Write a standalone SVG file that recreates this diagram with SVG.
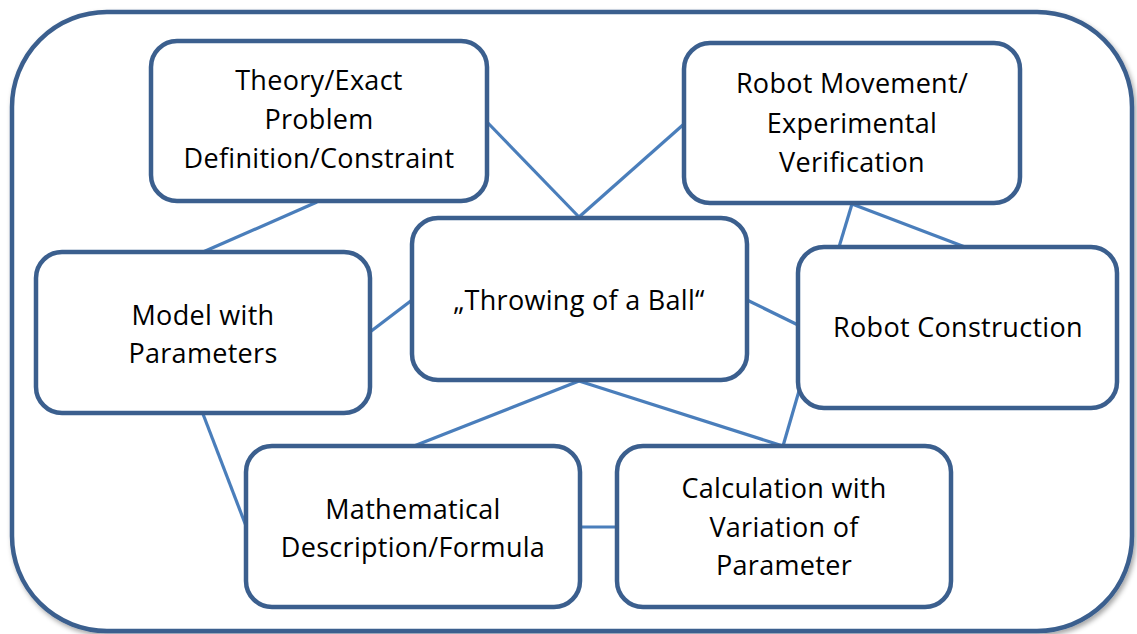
<svg xmlns="http://www.w3.org/2000/svg" width="1137" height="634" viewBox="0 0 1137 634">
<defs>
<filter id="sh" x="-5%" y="-5%" width="110%" height="110%">
<feDropShadow dx="2" dy="3" stdDeviation="2.5" flood-color="#000" flood-opacity="0.35"/>
</filter>
<style>
.node rect{fill:#fff;stroke:#3b5f8e;stroke-width:4.5}
.node text{font-family:"Open Sans","Liberation Sans",sans-serif;font-size:27px;letter-spacing:0.3px;fill:#000;text-anchor:middle}
#connectors line{stroke:#4a7ebb;stroke-width:3.2;stroke-linecap:butt}
</style>
</defs>
<rect id="frame" x="12" y="12" width="1120" height="619" rx="95" ry="95" fill="#fff" stroke="#3b5f8e" stroke-width="4.5" filter="url(#sh)"/>
<g id="connectors">
<line x1="317" y1="202" x2="203" y2="252"/>
<line x1="487" y1="122" x2="579" y2="217"/>
<line x1="579" y1="217" x2="684" y2="124"/>
<line x1="370" y1="332" x2="412" y2="300"/>
<line x1="747" y1="300" x2="798" y2="325"/>
<line x1="852" y1="204" x2="839" y2="247"/>
<line x1="852" y1="204" x2="965" y2="247"/>
<line x1="579" y1="381" x2="414" y2="446"/>
<line x1="579" y1="381" x2="783" y2="446"/>
<line x1="799" y1="391" x2="783" y2="446"/>
<line x1="203" y1="414" x2="246" y2="526"/>
<line x1="580" y1="527" x2="617" y2="527"/>
</g>
<g id="theory" class="node">
<rect x="151" y="41" width="336" height="160" rx="26"/>
<text x="319" y="90">Theory/Exact</text>
<text x="319" y="129">Problem</text>
<text x="319" y="168">Definition/Constraint</text>
</g>
<g id="robot-movement" class="node">
<rect x="684" y="43" width="336" height="160" rx="26"/>
<text x="852" y="93">Robot Movement/</text>
<text x="852" y="133">Experimental</text>
<text x="852" y="172">Verification</text>
</g>
<g id="throwing" class="node">
<rect x="412" y="218" width="335" height="162" rx="26"/>
<text x="579" y="310">„Throwing of a Ball“</text>
</g>
<g id="model" class="node">
<rect x="36" y="252" width="334" height="161" rx="26"/>
<text x="203" y="325">Model with</text>
<text x="203" y="363">Parameters</text>
</g>
<g id="robot-construction" class="node">
<rect x="798" y="247" width="319" height="161" rx="26"/>
<text x="958" y="337">Robot Construction</text>
</g>
<g id="math" class="node">
<rect x="246" y="446" width="334" height="161" rx="26"/>
<text x="413" y="519">Mathematical</text>
<text x="413" y="557">Description/Formula</text>
</g>
<g id="calc" class="node">
<rect x="617" y="446" width="334" height="161" rx="26"/>
<text x="784" y="498">Calculation with</text>
<text x="784" y="537">Variation of</text>
<text x="784" y="575">Parameter</text>
</g>
</svg>
